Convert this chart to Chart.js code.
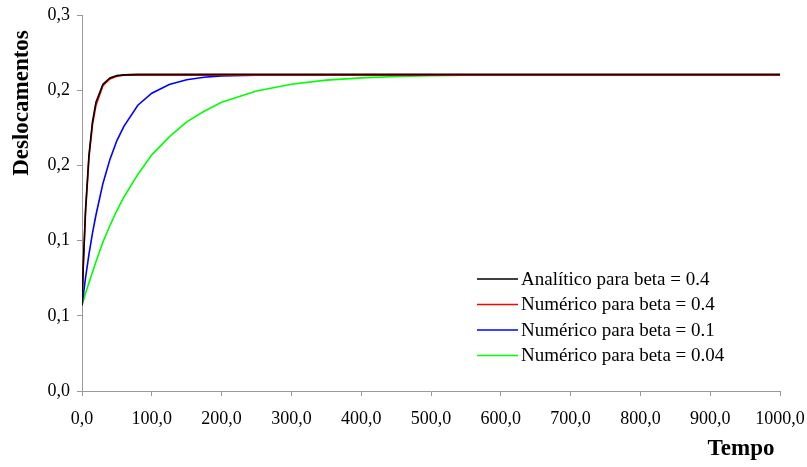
<!DOCTYPE html>
<html>
<head>
<meta charset="utf-8">
<script src="https://cdn.jsdelivr.net/npm/chart.js@4/dist/chart.umd.min.js"></script>
<style>
  html, body { margin: 0; padding: 0; background: #fff; }
  #wrap { width: 807px; height: 467px; }
</style>
</head>
<body>
<div id="wrap"><canvas id="chart" width="807" height="467"></canvas></div>
<script>
// dados
const tempo = [0, 2, 5, 10, 15, 20, 30, 40, 50, 60, 80, 100, 125, 150, 175, 200, 250, 300, 350, 400, 450, 500, 550, 600, 700, 800, 900, 1000];

const analitico04 = [0.057, 0.086, 0.120, 0.157, 0.179, 0.192, 0.204, 0.2082, 0.2097, 0.2102, 0.2105, 0.2105, 0.2105, 0.2105, 0.2105, 0.2105, 0.2105, 0.2105, 0.2105, 0.2105, 0.2105, 0.2105, 0.2105, 0.2105, 0.2105, 0.2105, 0.2105, 0.2105];
const numerico04 = [0.057, 0.085, 0.118, 0.155, 0.177, 0.190, 0.203, 0.2075, 0.2093, 0.2099, 0.2100, 0.2100, 0.2100, 0.2100, 0.2100, 0.2100, 0.2100, 0.2100, 0.2100, 0.2100, 0.2100, 0.2100, 0.2100, 0.2100, 0.2100, 0.2100, 0.2100, 0.2100];
const numerico01 = [0.057, 0.064, 0.075, 0.091, 0.105, 0.117, 0.138, 0.154, 0.1665, 0.176, 0.190, 0.198, 0.2038, 0.2069, 0.2086, 0.2095, 0.2100, 0.2100, 0.2100, 0.2100, 0.2100, 0.2100, 0.2100, 0.2100, 0.2100, 0.2100, 0.2100, 0.2100];
const numerico004 = [0.057, 0.060, 0.065, 0.072, 0.079, 0.086, 0.099, 0.110, 0.120, 0.129, 0.144, 0.157, 0.169, 0.179, 0.186, 0.192, 0.1995, 0.204, 0.2067, 0.2082, 0.2091, 0.2096, 0.2099, 0.2100, 0.2100, 0.2100, 0.2100, 0.2100];

const rotulosY = ['0,0', '0,1', '0,1', '0,2', '0,2', '0,3'];
const rotulosX = ['0,0', '100,0', '200,0', '300,0', '400,0', '500,0', '600,0', '700,0', '800,0', '900,0', '1000,0'];

const series = [
  { label: 'Analítico para beta = 0.4', data: analitico04, color: '#000000' },
  { label: 'Numérico para beta = 0.4', data: numerico04, color: '#ff0000' },
  { label: 'Numérico para beta = 0.1', data: numerico01, color: '#0000ff' },
  { label: 'Numérico para beta = 0.04', data: numerico004, color: '#00ff00' }
];

const fonte = 'Liberation Serif';

// titulos e legenda desenhados à mão, como no Excel
const extras = {
  id: 'extras',
  afterDraw(chart) {
    const ctx = chart.ctx;
    ctx.save();
    ctx.fillStyle = '#000';
    ctx.font = 'bold 23px "' + fonte + '"';
    ctx.textAlign = 'center';
    ctx.textBaseline = 'middle';
    ctx.translate(22, 103);
    ctx.rotate(-Math.PI / 2);
    ctx.fillText('Deslocamentos', 0, 0);
    ctx.restore();

    ctx.save();
    ctx.fillStyle = '#000';
    ctx.font = 'bold 23px "' + fonte + '"';
    ctx.textAlign = 'center';
    ctx.textBaseline = 'middle';
    ctx.fillText('Tempo', 741, 449);
    ctx.restore();

    // legenda
    ctx.save();
    ctx.font = '19px "' + fonte + '"';
    ctx.textBaseline = 'middle';
    ctx.textAlign = 'left';
    chart.data.datasets.forEach((ds, i) => {
      const y = 279 + i * 25.5;
      ctx.strokeStyle = ds.borderColor;
      ctx.lineWidth = 1.5;
      ctx.beginPath();
      ctx.moveTo(477, y);
      ctx.lineTo(518, y);
      ctx.stroke();
      ctx.fillStyle = '#000';
      ctx.fillText(ds.label, 521, y + 1);
    });
    ctx.restore();
  }
};

const ctx = document.getElementById('chart').getContext('2d');
const chart = new Chart(ctx, {
  type: 'line',
  data: {
    datasets: series.map((s) => ({
      label: s.label,
      data: tempo.map((t, i) => ({ x: t, y: s.data[i] })),
      borderColor: s.color,
      backgroundColor: s.color,
      borderWidth: 1.6,
      pointRadius: 0,
      tension: 0,
      fill: false
    }))
  },
  options: {
    responsive: false,
    animation: false,
    layout: { padding: { top: 15, right: 27, left: 0, bottom: 0 } },
    plugins: {
      legend: { display: false },
      tooltip: { enabled: false }
    },
    scales: {
      x: {
        type: 'linear',
        min: 0,
        max: 1000,
        afterFit: (scale) => {
          scale.height = 76;
          scale.paddingLeft = 0;
          scale.paddingRight = 0;
        },
        ticks: {
          stepSize: 100,
          padding: 12,
          color: '#000',
          font: { family: fonte, size: 18 },
          maxRotation: 0,
          autoSkip: false,
          callback: (v, i) => rotulosX[i]
        },
        grid: { drawOnChartArea: false, tickLength: 5, color: '#999' },
        border: { color: '#999', width: 1 }
      },
      y: {
        min: 0,
        max: 0.25,
        afterFit: (scale) => {
          scale.width = 82;
          scale.paddingTop = 0;
          scale.paddingBottom = 0;
        },
        ticks: {
          stepSize: 0.05,
          padding: 7,
          color: '#000',
          font: { family: fonte, size: 18 },
          callback: (v, i) => rotulosY[i]
        },
        grid: { drawOnChartArea: false, tickLength: 5, color: '#999' },
        border: { color: '#999', width: 1 }
      }
    }
  },
  plugins: [extras]
});
</script>
</body>
</html>
